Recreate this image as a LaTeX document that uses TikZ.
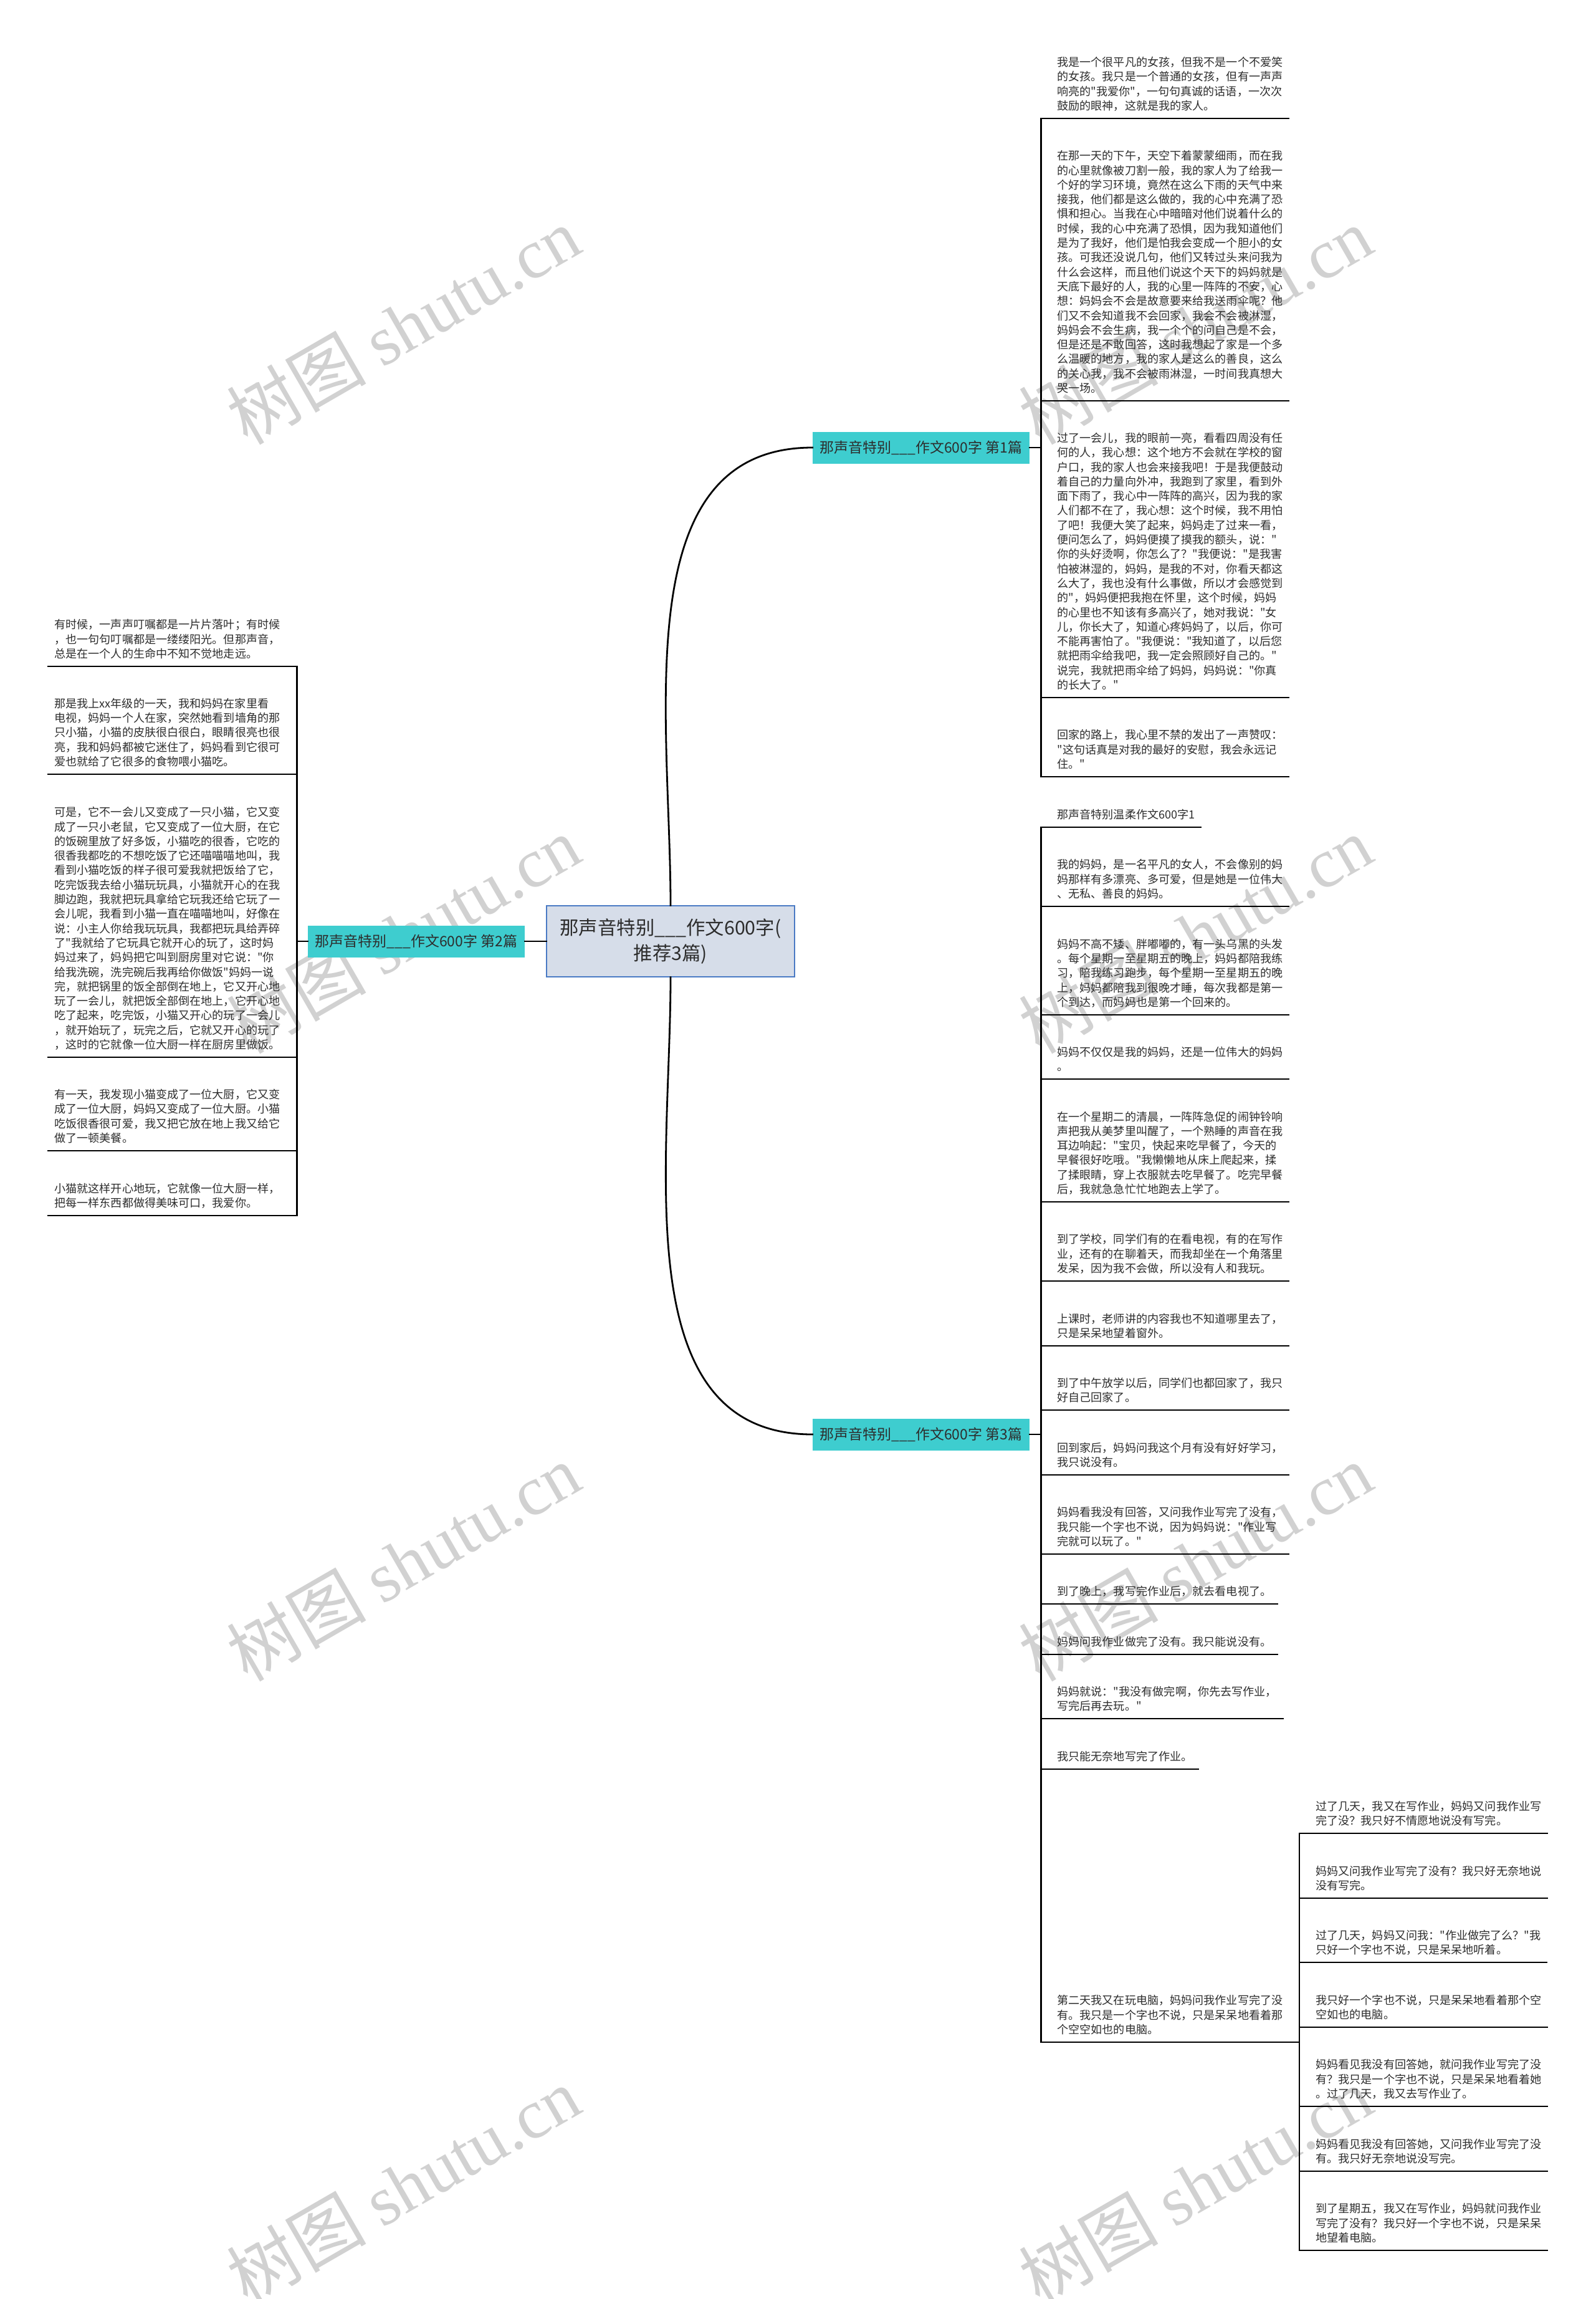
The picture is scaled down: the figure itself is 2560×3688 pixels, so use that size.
\documentclass[tikz,border=0pt]{standalone}
\usepackage{fontspec}
\setmainfont{Noto Sans CJK SC}[Ligatures=TeXOff]
\newfontfamily\wmfont{Liberation Serif}
\usetikzlibrary{positioning}

\definecolor{tealbox}{RGB}{62,205,207}
\definecolor{rootfill}{RGB}{214,221,233}
\definecolor{rootdraw}{RGB}{74,122,196}
\definecolor{inktext}{RGB}{45,45,45}

\begin{document}
\begin{tikzpicture}[x=0.5pt,y=-0.5pt]
    \tikzset{
      root node/.style = {draw=rootdraw, line width=0.8pt, fill=rootfill, text=inktext, inner sep=0pt,
        minimum width=199pt, minimum height=57pt, align=center, font=\fontsize{15.2pt}{20.5pt}\selectfont},
      branch node/.style = {fill=tealbox, text=inktext, inner sep=0pt, minimum width=174pt,
        minimum height=25.5pt, font=\fontsize{11.5pt}{14pt}\selectfont},
      leaf/.style = {anchor=south west, align=left, inner xsep=0pt, inner ysep=4.05pt, text=inktext,
        font=\fontsize{9.05pt}{11.65pt}\selectfont, execute at end node={\rule[-2.5pt]{0pt}{0pt}}},
      link/.style = {line width=1.4pt, black, line cap=rect},
      wmark/.style = {rotate=30, text=black!18, font=\fontsize{56pt}{60pt}\selectfont}
    }
    \fill[white] (0,0) rectangle (2560,3688);
    \useasboundingbox (0,0) rectangle (2560,3688);
    % watermarks
    \foreach \wx in {647,1918}
      \foreach \wy in {522,1499,2506,3506}
        \node[wmark] (wm\wx\wy) at (\wx,\wy) {树图 {\wmfont shutu.cn}};

    \node[root node] (root) at (1076,1510) {那声音特别\_\_\_作文600字(\\推荐3篇)};
    \node[branch node] (b1) at (1478,718) {那声音特别\_\_\_作文600字 第1篇};
    \node[branch node] (b2) at (668,1510) {那声音特别\_\_\_作文600字 第2篇};
    \node[branch node] (b3) at (1478,2301) {那声音特别\_\_\_作文600字 第3篇};
    \coordinate (r1) at ([xshift=9pt]b1.east);
    \coordinate (r3) at ([xshift=9pt]b3.east);
    \coordinate (l2) at ([xshift=-8.5pt]b2.west);

    \path[link]
    (root.north) edge[out=90, in=180] (b1.west)
    (root.south) edge[out=-90, in=180] (b3.west)
    (root.west) edge (b2.east)
    (b1.east) edge (r1)
    (b3.east) edge (r3)
    (b2.west) edge (l2);

    %% first piece
    \node[leaf] (a1) at (1696,190) {我是一个很平凡的女孩，但我不是一个不爱笑\\的女孩。我只是一个普通的女孩，但有一声声\\响亮的"我爱你"，一句句真诚的话语，一次次\\鼓励的眼神，这就是我的家人。};
    \node[leaf] (a2) at (1696,643) {在那一天的下午，天空下着蒙蒙细雨，而在我\\的心里就像被刀割一般，我的家人为了给我一\\个好的学习环境，竟然在这么下雨的天气中来\\接我，他们都是这么做的，我的心中充满了恐\\惧和担心。当我在心中暗暗对他们说着什么的\\时候，我的心中充满了恐惧，因为我知道他们\\是为了我好，他们是怕我会变成一个胆小的女\\孩。可我还没说几句，他们又转过头来问我为\\什么会这样，而且他们说这个天下的妈妈就是\\天底下最好的人，我的心里一阵阵的不安，心\\想：妈妈会不会是故意要来给我送雨伞呢？他\\们又不会知道我不会回家，我会不会被淋湿，\\妈妈会不会生病，我一个个的问自己是不会，\\但是还是不敢回答，这时我想起了家是一个多\\么温暖的地方，我的家人是这么的善良，这么\\的关心我，我不会被雨淋湿，一时间我真想大\\哭一场。};
    \node[leaf] (a3) at (1696,1119) {过了一会儿，我的眼前一亮，看看四周没有任\\何的人，我心想：这个地方不会就在学校的窗\\户口，我的家人也会来接我吧！于是我便鼓动\\着自己的力量向外冲，我跑到了家里，看到外\\面下雨了，我心中一阵阵的高兴，因为我的家\\人们都不在了，我心想：这个时候，我不用怕\\了吧！我便大笑了起来，妈妈走了过来一看，\\便问怎么了，妈妈便摸了摸我的额头，说："\\你的头好烫啊，你怎么了？"我便说："是我害\\怕被淋湿的，妈妈，是我的不对，你看天都这\\么大了，我也没有什么事做，所以才会感觉到\\的"，妈妈便把我抱在怀里，这个时候，妈妈\\的心里也不知该有多高兴了，她对我说："女\\儿，你长大了，知道心疼妈妈了，以后，你可\\不能再害怕了。"我便说："我知道了，以后您\\就把雨伞给我吧，我一定会照顾好自己的。"\\说完，我就把雨伞给了妈妈，妈妈说："你真\\的长大了。"};
    \node[leaf] (a4) at (1696,1246) {回家的路上，我心里不禁的发出了一声赞叹：\\"这句话真是对我的最好的安慰，我会永远记\\住。"};

    %% second piece
    \node[leaf] (g1) at (87,1069) {有时候，一声声叮嘱都是一片片落叶；有时候\\，也一句句叮嘱都是一缕缕阳光。但那声音，\\总是在一个人的生命中不知不觉地走远。};
    \node[leaf] (g2) at (87,1242) {那是我上xx年级的一天，我和妈妈在家里看\\电视，妈妈一个人在家，突然她看到墙角的那\\只小猫，小猫的皮肤很白很白，眼睛很亮也很\\亮，我和妈妈都被它迷住了，妈妈看到它很可\\爱也就给了它很多的食物喂小猫吃。};
    \node[leaf] (g3) at (87,1696) {可是，它不一会儿又变成了一只小猫，它又变\\成了一只小老鼠，它又变成了一位大厨，在它\\的饭碗里放了好多饭，小猫吃的很香，它吃的\\很香我都吃的不想吃饭了它还喵喵喵地叫，我\\看到小猫吃饭的样子很可爱我就把饭给了它，\\吃完饭我去给小猫玩玩具，小猫就开心的在我\\脚边跑，我就把玩具拿给它玩我还给它玩了一\\会儿呢，我看到小猫一直在喵喵地叫，好像在\\说：小主人你给我玩玩具，我都把玩具给弄碎\\了"我就给了它玩具它就开心的玩了，这时妈\\妈过来了，妈妈把它叫到厨房里对它说："你\\给我洗碗，洗完碗后我再给你做饭"妈妈一说\\完，就把锅里的饭全部倒在地上，它又开心地\\玩了一会儿，就把饭全部倒在地上，它开心地\\吃了起来，吃完饭，小猫又开心的玩了一会儿\\，就开始玩了，玩完之后，它就又开心的玩了\\，这时的它就像一位大厨一样在厨房里做饭。};
    \node[leaf] (g4) at (87,1846) {有一天，我发现小猫变成了一位大厨，它又变\\成了一位大厨，妈妈又变成了一位大厨。小猫\\吃饭很香很可爱，我又把它放在地上我又给它\\做了一顿美餐。};
    \node[leaf] (g5) at (87,1950) {小猫就这样开心地玩，它就像一位大厨一样，\\把每一样东西都做得美味可口，我爱你。};

    %% third piece
    \node[leaf] (hd) at (1696,1327) {那声音特别温柔作文600字1};
    \node[leaf] (e1) at (1696,1454) {我的妈妈，是一名平凡的女人，不会像别的妈\\妈那样有多漂亮、多可爱，但是她是一位伟大\\、无私、善良的妈妈。};
    \node[leaf] (e2) at (1696,1628) {妈妈不高不矮、胖嘟嘟的，有一头乌黑的头发\\。每个星期一至星期五的晚上，妈妈都陪我练\\习，陪我练习跑步，每个星期一至星期五的晚\\上，妈妈都陪我到很晚才睡，每次我都是第一\\个到达，而妈妈也是第一个回来的。};
    \node[leaf] (e3) at (1696,1731) {妈妈不仅仅是我的妈妈，还是一位伟大的妈妈\\。};
    \node[leaf] (e4) at (1696,1928) {在一个星期二的清晨，一阵阵急促的闹钟铃响\\声把我从美梦里叫醒了，一个熟睡的声音在我\\耳边响起："宝贝，快起来吃早餐了，今天的\\早餐很好吃哦。"我懒懒地从床上爬起来，揉\\了揉眼睛，穿上衣服就去吃早餐了。吃完早餐\\后，我就急急忙忙地跑去上学了。};
    \node[leaf] (e5) at (1696,2055) {到了学校，同学们有的在看电视，有的在写作\\业，还有的在聊着天，而我却坐在一个角落里\\发呆，因为我不会做，所以没有人和我玩。};
    \node[leaf] (e6) at (1696,2159) {上课时，老师讲的内容我也不知道哪里去了，\\只是呆呆地望着窗外。};
    \node[leaf] (e7) at (1696,2262) {到了中午放学以后，同学们也都回家了，我只\\好自己回家了。};
    \node[leaf] (e8) at (1696,2366) {回到家后，妈妈问我这个月有没有好好学习，\\我只说没有。};
    \node[leaf] (e9) at (1696,2493) {妈妈看我没有回答，又问我作业写完了没有，\\我只能一个字也不说，因为妈妈说："作业写\\完就可以玩了。"};
    \node[leaf] (e10) at (1696,2573) {到了晚上，我写完作业后，就去看电视了。};
    \node[leaf] (e11) at (1696,2654) {妈妈问我作业做完了没有。我只能说没有。};
    \node[leaf] (e12) at (1696,2757) {妈妈就说："我没有做完啊，你先去写作业，\\写完后再去玩。"};
    \node[leaf] (e13) at (1696,2838) {我只能无奈地写完了作业。};
    \node[leaf] (e14) at (1696,3276) {第二天我又在玩电脑，妈妈问我作业写完了没\\有。我只是一个字也不说，只是呆呆地看着那\\个空空如也的电脑。};

    \node[leaf] (f1) at (2111,2941) {过了几天，我又在写作业，妈妈又问我作业写\\完了没？我只好不情愿地说没有写完。};
    \node[leaf] (f2) at (2111,3045) {妈妈又问我作业写完了没有？我只好无奈地说\\没有写完。};
    \node[leaf] (f3) at (2111,3148) {过了几天，妈妈又问我："作业做完了么？"我\\只好一个字也不说，只是呆呆地听着。};
    \node[leaf] (f4) at (2111,3252) {我只好一个字也不说，只是呆呆地看着那个空\\空如也的电脑。};
    \node[leaf] (f5) at (2111,3379) {妈妈看见我没有回答她，就问我作业写完了没\\有？我只是一个字也不说，只是呆呆地看着她\\。过了几天，我又去写作业了。};
    \node[leaf] (f6) at (2111,3483) {妈妈看见我没有回答她，又问我作业写完了没\\有。我只好无奈地说没写完。};
    \node[leaf] (f7) at (2111,3610) {到了星期五，我又在写作业，妈妈就问我作业\\写完了没有？我只好一个字也不说，只是呆呆\\地望着电脑。};
    \coordinate (r14) at ([xshift=-13pt]f1.south west);

    % underlines and brackets
    \foreach \n in {a1,a2,a3,a4}
      \draw[link] (\n.south -| r1) -- ([xshift=4.5pt]\n.south east);
    \foreach \n in {hd,e1,e2,e3,e4,e5,e6,e7,e8,e9,e10,e11,e12,e13}
      \draw[link] (\n.south -| r3) -- ([xshift=4.5pt]\n.south east);
    \foreach \n in {f1,f2,f3,f4,f5,f6,f7}
      \draw[link] (\n.south -| r14) -- ([xshift=4.5pt]\n.south east);
    \foreach \n in {g1,g2,g3,g4,g5}
      \draw[link] ([xshift=-5pt]\n.south west) -- (\n.south -| l2);
    \draw[link] (e14.south -| r3) -- (e14.south -| r14);
    \draw[link] (a1.south -| r1) -- (a4.south -| r1);
    \draw[link] (hd.south -| r3) -- (e14.south -| r3);
    \draw[link] (f1.south -| r14) -- (f7.south -| r14);
    \draw[link] (g1.south -| l2) -- (g5.south -| l2);
\end{tikzpicture}
\end{document}
